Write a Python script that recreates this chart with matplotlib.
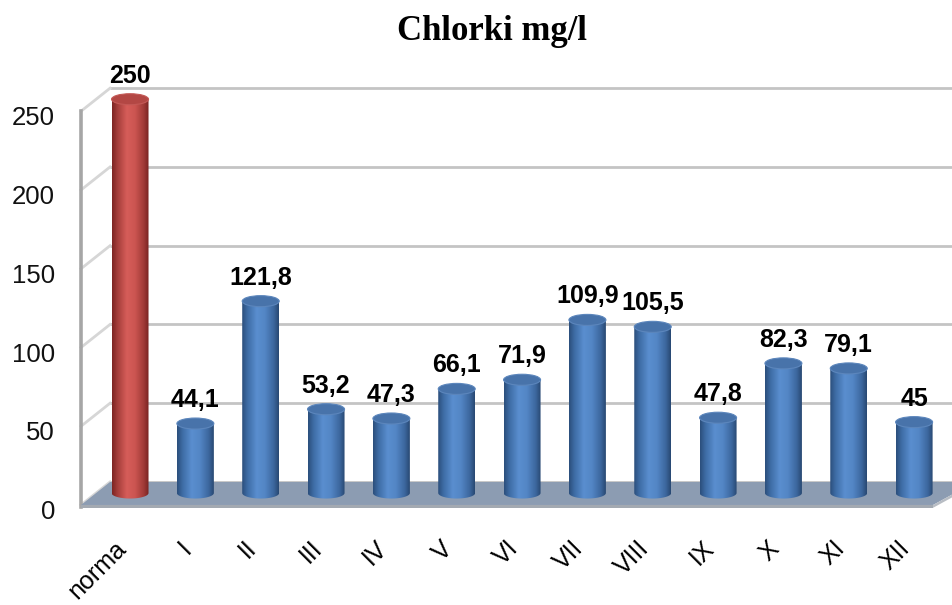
import numpy as np
import matplotlib
matplotlib.use("Agg")
import matplotlib.pyplot as plt
from matplotlib.patches import Polygon, Ellipse, PathPatch
from matplotlib.path import Path
from matplotlib.colors import LinearSegmentedColormap

# ---- data ----
categories = ["norma", "I", "II", "III", "IV", "V", "VI", "VII", "VIII", "IX", "X", "XI", "XII"]
values = [250, 44.1, 121.8, 53.2, 47.3, 66.1, 71.9, 109.9, 105.5, 47.8, 82.3, 79.1, 45]
y_ticks = [0, 50, 100, 150, 200, 250]
title = "Chlorki mg/l"

# ---- style ----
blue_cmap = LinearSegmentedColormap.from_list(
    "b", [(0, "#2B4E7B"), (0.15, "#3E6CA5"), (0.4, "#5A8ECF"), (0.62, "#5386C5"),
          (0.86, "#3C679E"), (1, "#284871")])
red_cmap = LinearSegmentedColormap.from_list(
    "r", [(0, "#7C2422"), (0.15, "#A43D3A"), (0.4, "#D65D59"), (0.62, "#CC5551"),
          (0.86, "#A03A37"), (1, "#772220")])
blue_top = "#4873AA"
red_top = "#B34744"

fig = plt.figure(figsize=(9.52, 6.05), dpi=100)
ax = fig.add_axes([0, 0, 1, 1])
ax.set_xlim(-1.99, 12.58)
ax.set_ylim(-71.1, 313.0)
ax.axis("off")

front_off = -7.6   # front plane offset (data units)
back_off = 7.0     # back wall offset
xf, xb = -0.75, -0.306  # front/back x of left wall
x_right_front = 12.29
depth_dx = xb - xf

# back wall gridlines + side wall diagonals
for t in y_ticks:
    ax.plot([xb, 13.0], [t + back_off, t + back_off], color="#C4C4C4", lw=2.0, zorder=1,
            solid_capstyle="butt")
    ax.plot([xf, xb], [t + front_off, t + back_off], color="#D6D6D6", lw=2.0, zorder=1)
    ax.text(-1.148, t - 10.5, f"{t}", ha="right", va="center_baseline", fontsize=18.5,
            family="Liberation Sans", color="#111111", zorder=5)

# front-left vertical axis line
ax.plot([xf, xf], [front_off - 1.5, 250 + front_off], color="#A6A6A6", lw=2.6, zorder=2)

# floor
floor_top = Polygon([(xf, front_off), (xb, back_off), (x_right_front + depth_dx + 0.2, back_off),
                     (x_right_front, front_off)], closed=True,
                    facecolor="#8C9CB2", edgecolor="none", zorder=2)
ax.add_patch(floor_top)
floor_front = Polygon([(xf, front_off), (x_right_front, front_off),
                       (x_right_front, front_off - 1.8), (xf, front_off - 1.8)], closed=True,
                      facecolor="#A3A9B1", edgecolor="none", zorder=2)
ax.add_patch(floor_front)
floor_side = Polygon([(x_right_front, front_off), (x_right_front + depth_dx + 0.2, back_off),
                      (x_right_front + depth_dx + 0.2, back_off - 1.8), (x_right_front, front_off - 1.8)],
                     closed=True, facecolor="#B8BDC4", edgecolor="none", zorder=2)
ax.add_patch(floor_side)

# cylinders
w = 0.566
eh = 7.0
theta = np.linspace(0, np.pi, 40)
grad = np.linspace(0, 1, 256).reshape(1, -1)
for i, (cat, v) in enumerate(zip(categories, values)):
    cmap = red_cmap if i == 0 else blue_cmap
    topc = red_top if i == 0 else blue_top
    x0, x1 = i - w / 2, i + w / 2
    arc_x = i + (w / 2) * np.cos(theta)
    arc_y = 0 - (eh / 2) * np.sin(theta)
    verts = [(x0, v), (x1, v)] + list(zip(arc_x, arc_y)) + [(x0, v)]
    codes = [Path.MOVETO] + [Path.LINETO] * (len(verts) - 2) + [Path.CLOSEPOLY]
    body = PathPatch(Path(verts, codes), transform=ax.transData, facecolor="none",
                     edgecolor="none")
    im = ax.imshow(grad, cmap=cmap, aspect="auto", extent=[x0, x1, -eh, v + 1],
                   zorder=3, interpolation="bilinear")
    im.set_clip_path(body)
    top = Ellipse((i, v), w, eh, facecolor=topc, edgecolor="#5C86BC" if i else "#C45956",
                  lw=0.8, zorder=4)
    ax.add_patch(top)
    lbl = f"{v:g}".replace(".", ",")
    ax.annotate(lbl, (i, v), xytext=(0, 17), textcoords="offset points", ha="center",
                va="center", fontsize=18, fontweight="bold", family="Liberation Sans",
                color="#000000", zorder=6)
    ax.text(i - 0.25, -27.5, cat, rotation=45, rotation_mode="anchor", ha="right",
            va="top", fontsize=18, family="Liberation Sans", color="#000000", zorder=6)

ax.set_xlim(-1.99, 12.58)
ax.set_ylim(-71.1, 313.0)

fig.text(0.517, 0.948, title, ha="center", va="center", fontsize=25, fontweight="bold",
         family="Liberation Serif")

fig.savefig("out.png", dpi=100)
